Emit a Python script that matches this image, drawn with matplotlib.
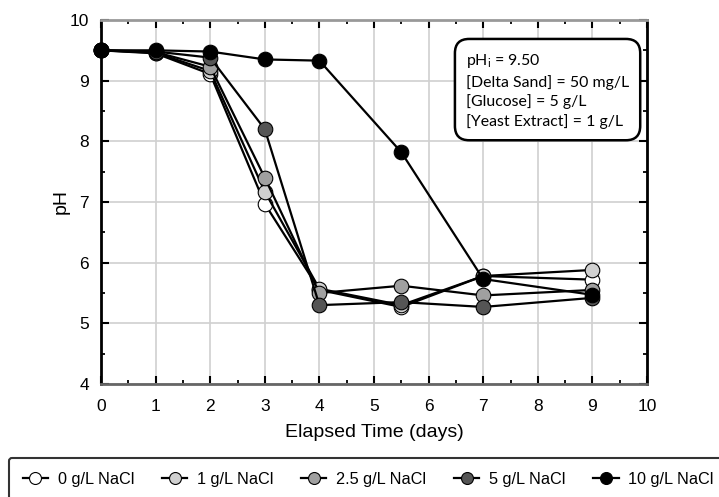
import matplotlib
matplotlib.use("Agg")
import matplotlib.pyplot as plt
from matplotlib.ticker import MultipleLocator

days = [0, 1, 2, 3, 4, 5.5, 7, 9]
labels = ["0 g/L NaCl", "1 g/L NaCl", "2.5 g/L NaCl", "5 g/L NaCl", "10 g/L NaCl"]
ph_0 = [9.50, 9.45, 9.11, 6.97, 5.55, 5.27, 5.78, 5.72]
ph_1 = [9.50, 9.46, 9.16, 7.17, 5.57, 5.30, 5.78, 5.88]
ph_2_5 = [9.50, 9.47, 9.23, 7.40, 5.50, 5.62, 5.46, 5.55]
ph_5 = [9.50, 9.48, 9.38, 8.20, 5.30, 5.35, 5.27, 5.42]
ph_10 = [9.50, 9.50, 9.48, 9.35, 9.33, 7.82, 5.73, 5.47]
series = [ph_0, ph_1, ph_2_5, ph_5, ph_10]
colors = ["#ffffff", "#d0d0d0", "#a0a0a0", "#555555", "#000000"]

plt.rcParams['font.family'] = ['Liberation Sans', 'DejaVu Sans']

fig = plt.figure(figsize=(7.19, 4.97), dpi=100)
ax = fig.add_axes([101/719, 1-384/497, (647-101)/719, (384-20)/497])

for vals, c, lab in zip(series, colors, labels):
    ax.plot(days, vals, '-', color='black', lw=1.6, marker='o', ms=10.5,
            mfc=c, mec='black', mew=0.8, label=lab, clip_on=False)

ax.set_xlim(0, 10)
ax.set_ylim(4, 10)
ax.xaxis.set_major_locator(MultipleLocator(1))
ax.xaxis.set_minor_locator(MultipleLocator(0.5))
ax.yaxis.set_major_locator(MultipleLocator(1))
ax.yaxis.set_minor_locator(MultipleLocator(0.5))
ax.tick_params(which='both', direction='in', top=True, right=True, labelsize=12.5)
ax.tick_params(which='major', length=5.8, width=1.5)
ax.tick_params(which='minor', length=2.9, width=1.3)
ax.tick_params(axis='x', which='major', pad=11)
ax.tick_params(axis='y', which='major', pad=8.5)
ax.grid(True, which='major', color='#d0d0d0', lw=1.2)
ax.set_axisbelow(True)
for s in ['left', 'bottom', 'right', 'top']:
    ax.spines[s].set_linewidth(2)
ax.spines['top'].set_color('#999999')
ax.spines['bottom'].set_color('#666666')

ax.set_xlabel("Elapsed Time (days)", fontsize=14, labelpad=7)
ax.set_ylabel("pH", fontsize=14, labelpad=0)

ax.text(0.6685, 0.912,
        "pH$_\\mathregular{i}$ = 9.50\n[Delta Sand] = 50 mg/L\n[Glucose] = 5 g/L\n[Yeast Extract] = 1 g/L",
        transform=ax.transAxes, ha='left', va='top', fontsize=11.4, family=['Lato', 'DejaVu Sans'],
        linespacing=1.4,
        bbox=dict(boxstyle='round,pad=0.7,rounding_size=0.9', fc='white', ec='black', lw=1.8))

leg = fig.legend(loc='upper left', bbox_to_anchor=(9/719, 1-458/497), ncol=5,
                 fontsize=11.7, frameon=True, fancybox=True, edgecolor='black',
                 handlelength=1.55, columnspacing=1.71, handletextpad=0.6,
                 borderpad=0.85, borderaxespad=0, markerscale=0.82)
leg.get_frame().set_linewidth(1.5)

fig.savefig("out.png", dpi=100)
